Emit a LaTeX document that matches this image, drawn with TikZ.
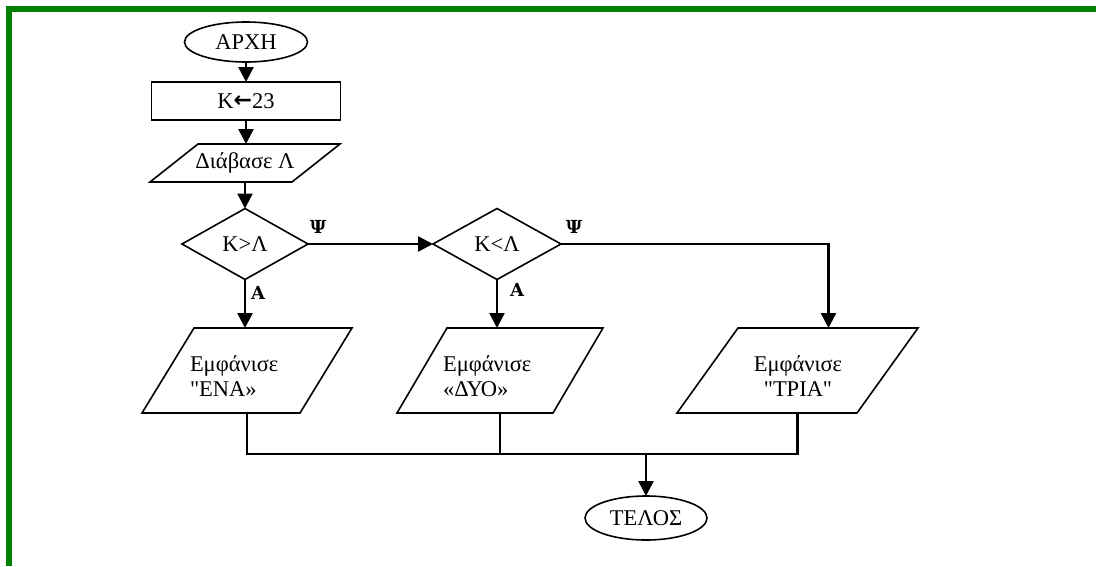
\documentclass[tikz,border=0pt]{standalone}
\usepackage{fontspec}
\setmainfont{Liberation Serif}[Ligatures=TeXOff]
\newfontfamily\labfont{DejaVu Serif}
\newfontfamily\arrowfont{DejaVu Sans}
\usetikzlibrary{shapes.geometric,arrows.meta}
\definecolor{bordergreen}{RGB}{0,128,0}
\begin{document}
\begin{tikzpicture}[x=1pt,y=-1pt,
  every node/.style={font=\fontsize{22.5}{25}\selectfont, inner sep=0pt, outer sep=0pt},
  shp/.style={draw, line width=1.6pt},
  term/.style={shp, ellipse},
  proc/.style={shp, rectangle},
  iobox/.style={rectangle},
  decision/.style={shp, diamond, aspect=1.8},
  wire/.style={line width=2.5pt},
  conn/.style={wire, -{Triangle[length=15pt,width=15pt]}},
  lab/.style={font=\labfont\bfseries\fontsize{18}{18}\selectfont},
  txt/.style={align=left, anchor=west}
]
\useasboundingbox (0,0) rectangle (1096,566);
\fill[white] (0,0) rectangle (1096,566);
\draw[bordergreen, line width=6pt] (9,566) -- (9,9) -- (1096,9);

\node[term, minimum width=123pt, minimum height=40pt] (start) at (246,42) {ΑΡΧΗ};
\node[proc, minimum width=189pt, minimum height=38pt] (assign) at (246,101) {Κ{\arrowfont\bfseries\fontsize{22}{22}\selectfont\raisebox{0.5pt}{←}}23};
\node[iobox, minimum width=190pt, minimum height=38pt] (read) at (245,163) {Διάβασε Λ};
\node[decision, minimum width=126pt, minimum height=71pt] (d1) at (245,244) {Κ>Λ};
\node[decision, minimum width=128pt, minimum height=71pt] (d2) at (497,244) {Κ<Λ};

\node[iobox, minimum width=210pt, minimum height=85pt] (p1) at (247,370.5) {};
\node[iobox, minimum width=206pt, minimum height=85pt] (p2) at (500,370.5) {};
\node[iobox, minimum width=241pt, minimum height=85pt] (p3) at (797.5,370.5) {};
\node[txt] (t1) at (190,376) {Εμφάνισε\\"ΕΝΑ»};
\node[txt] (t2) at (443,376) {Εμφάνισε\\«ΔΥΟ»};
\node[align=center] (t3) at (798,376) {Εμφάνισε\\"ΤΡΙΑ"};

\node[term, minimum width=122pt, minimum height=44pt] (end) at (646,518) {ΤΕΛΟΣ};

\node[lab] (y1) at (318,227) {Ψ};
\node[lab] (y2) at (574,227) {Ψ};
\node[lab] (a1) at (258,293) {A};
\node[lab] (a2) at (517,290) {A};

% parallelogram outlines
\draw[shp] ([xshift=48pt]read.north west) -- (read.north east) -- ([xshift=-48pt]read.south east) -- (read.south west) -- cycle;
\draw[shp] ([xshift=52pt]p1.north west) -- (p1.north east) -- ([xshift=-52pt]p1.south east) -- (p1.south west) -- cycle;
\draw[shp] ([xshift=50pt]p2.north west) -- (p2.north east) -- ([xshift=-50pt]p2.south east) -- (p2.south west) -- cycle;
\draw[shp] ([xshift=61pt]p3.north west) -- (p3.north east) -- ([xshift=-61pt]p3.south east) -- (p3.south west) -- cycle;

\coordinate (merge) at (646,454);

\draw[conn] (start.south) -- (assign.north);
\draw[conn] (assign.south) -- (assign.south |- read.north);
\draw[conn] (read.south) -- (read.south |- d1.north);
\draw[conn] (d1.east) -- (d2.west);
\draw[conn] (d1.south) -- (d1.south |- p1.north);
\draw[conn] (d2.south) -- (d2.south |- p2.north);
\draw[conn] (d2.east) -| ([xshift=31pt]p3.north);
\draw[wire] (p1.south) |- (merge) -| (p3.south);
\draw[wire] (p2.south) -- (p2.south |- merge);
\draw[conn] (merge) -- (end.north);
\end{tikzpicture}
\end{document}
